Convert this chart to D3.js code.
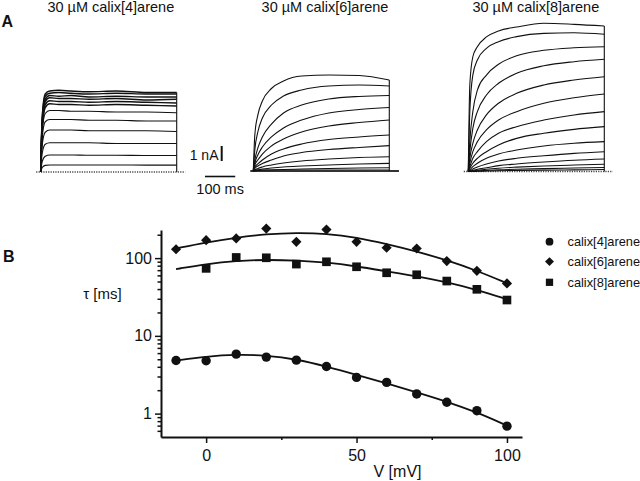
<!DOCTYPE html>
<html><head><meta charset="utf-8">
<script src="https://cdn.jsdelivr.net/npm/d3@7"></script>
<style>
html,body{margin:0;padding:0;background:#fff;}
svg{display:block;font-family:"Liberation Sans",Arial,sans-serif;}
</style></head>
<body>
<svg id="chart" width="640" height="481"></svg>
<script>
// ---------- Panel A data: current traces (nA) at sample times (ms) ----------
const tSamples = [0, 5, 15, 30, 60, 100, 160, 250, 350, 450];
const panelTitles = ["30 \u00B5M calix[4]arene", "30 \u00B5M calix[6]arene", "30 \u00B5M calix[8]arene"];
const calix4Traces = [
  [0, 3.6, 5.2, 5.4, 5.45, 5.4, 5.35, 5.4, 5.3, 5.3],
  [0, 3.5, 5.05, 5.25, 5.3, 5.25, 5.2, 5.25, 5.2, 5.2],
  [0, 3.3, 4.85, 5.1, 5.05, 5.1, 5.0, 5.05, 5.0, 5.0],
  [0, 3.2, 4.7, 4.95, 4.9, 4.9, 4.85, 4.9, 4.8, 4.85],
  [0, 3.1, 4.5, 4.75, 4.7, 4.7, 4.65, 4.7, 4.65, 4.6],
  [0, 2.9, 4.3, 4.55, 4.5, 4.5, 4.45, 4.5, 4.45, 4.4],
  [0, 2.7, 3.9, 4.1, 4.1, 4.05, 4.05, 4.0, 4.0, 3.95],
  [0, 2.3, 3.35, 3.5, 3.5, 3.5, 3.45, 3.45, 3.4, 3.4],
  [0, 1.8, 2.65, 2.8, 2.8, 2.8, 2.75, 2.75, 2.75, 2.7],
  [0, 1.25, 1.85, 1.95, 1.95, 1.95, 1.95, 1.9, 1.9, 1.9],
  [0, 0.7, 1.05, 1.13, 1.13, 1.13, 1.12, 1.12, 1.1, 1.1],
  [0, 0.3, 0.44, 0.47, 0.47, 0.47, 0.47, 0.47, 0.46, 0.46]
];
const calix6Traces = [
  [0, 2.4, 3.73, 4.67, 5.5, 6.0, 6.33, 6.4, 6.37, 6.07],
  [0, 1.4, 2.6, 3.53, 4.4, 5.0, 5.4, 5.67, 5.73, 5.67],
  [0, 0.73, 1.53, 2.27, 3.13, 3.87, 4.4, 4.8, 4.97, 5.03],
  [0, 0.53, 1.07, 1.6, 2.27, 2.87, 3.4, 3.87, 4.1, 4.23],
  [0, 0.4, 0.73, 1.13, 1.67, 2.13, 2.6, 3.0, 3.23, 3.4],
  [0, 0.27, 0.47, 0.73, 1.13, 1.47, 1.8, 2.1, 2.27, 2.4],
  [0, 0.17, 0.33, 0.5, 0.73, 1.0, 1.23, 1.43, 1.57, 1.69],
  [0, 0.07, 0.17, 0.27, 0.4, 0.53, 0.67, 0.8, 0.9, 0.95],
  [0, 0.03, 0.07, 0.13, 0.2, 0.27, 0.33, 0.4, 0.47, 0.51],
  [0, 0, 0.03, 0.05, 0.07, 0.1, 0.13, 0.17, 0.2, 0.22]
];
const calix8Traces = [
  [0, 5.77, 7.65, 8.32, 8.97, 9.37, 9.63, 9.88, 9.81, 9.7],
  [0, 3.99, 6.43, 7.43, 8.21, 8.65, 8.99, 9.21, 9.25, 9.15],
  [0, 1.99, 3.99, 5.43, 6.43, 7.15, 7.72, 8.08, 8.25, 8.32],
  [0, 1.32, 2.88, 3.99, 5.1, 5.88, 6.55, 7.05, 7.32, 7.48],
  [0, 0.88, 1.88, 2.77, 3.77, 4.55, 5.21, 5.77, 6.1, 6.32],
  [0, 0.55, 1.32, 1.99, 2.77, 3.43, 3.99, 4.55, 4.92, 5.17],
  [0, 0.32, 0.88, 1.32, 1.99, 2.55, 2.99, 3.43, 3.77, 3.99],
  [0, 0.21, 0.55, 0.88, 1.32, 1.77, 2.21, 2.55, 2.81, 2.99],
  [0, 0.1, 0.32, 0.55, 0.88, 1.17, 1.43, 1.7, 1.88, 1.99],
  [0, 0.03, 0.17, 0.3, 0.5, 0.7, 0.88, 1.05, 1.21, 1.32],
  [0, 0.01, 0.08, 0.15, 0.25, 0.39, 0.5, 0.63, 0.75, 0.83],
  [0, 0, 0.05, 0.08, 0.15, 0.22, 0.29, 0.37, 0.43, 0.48],
  [0, 0, 0.02, 0.04, 0.07, 0.11, 0.15, 0.19, 0.23, 0.27],
  [0, 0, 0, 0.02, 0.03, 0.05, 0.07, 0.09, 0.11, 0.13]
];
const scaleBarCurrent = 1;   // nA
const scaleBarTime = 100;    // ms

// ---------- Panel B data: tau (ms) vs V (mV) ----------
const voltages = [-10, 0, 10, 20, 30, 40, 50, 60, 70, 80, 90, 100];
const tauCalix4 = [4.82, 4.78, 5.82, 5.33, 4.87, 4.04, 2.92, 2.52, 1.79, 1.40, 1.09, 0.69];
const tauCalix6 = [130, 170, 179, 240, 162, 233, 162, 136, 133, 91.5, 68.7, 47.3];
const voltagesCalix8 = [0, 10, 20, 30, 40, 50, 60, 70, 80, 90, 100];
const tauCalix8 = [73.8, 102, 101, 83.8, 89.7, 77.4, 64.8, 61.1, 50.7, 39.7, 28.9];
const fitCalix4 = [4.82, 5.43, 5.78, 5.62, 5.01, 4.05, 3.16, 2.45, 1.88, 1.43, 1.04, 0.70];
const fitCalix6 = [133, 159, 184, 204, 212, 207, 185, 152, 122, 94, 69, 47.5];
const fitCalix8 = [72.3, 83.8, 92.3, 95.5, 93.3, 88.1, 78.5, 67.6, 58.6, 49.0, 39.2, 29.5];
const seriesNames = ["calix[4]arene", "calix[6]arene", "calix[8]arene"];
const yMajorTicks = [1, 10, 100];
const yMinorTicks = [0.6, 0.7, 0.8, 0.9, 2, 3, 4, 5, 6, 7, 8, 9, 20, 30, 40, 50, 60, 70, 80, 90, 200];
const xMajorTicks = [0, 50, 100];
const xMinorTicks = [25, 75];

const svg = d3.select("#chart");
const FONT = '"Liberation Sans", Arial, sans-serif';
const ink = "#111";

// ================= Panel A =================
svg.append("text").attr("x", 1.5).attr("y", 26.7).attr("font-size", 16).attr("font-weight", "bold")
  .attr("fill", ink).text("A");

const xT = d3.scaleLinear().domain([0, 450]).range([0, 136]);
const yI = d3.scaleLinear().domain([0, 1]).range([0, -15]);
const traceLine = d3.line().x((d, i) => xT(tSamples[i])).y(d => yI(d)).curve(d3.curveMonotoneX);

const panels = [
  {traces: calix4Traces, left: 40.7, base: 172, title: panelTitles[0], cx: 110.8, baseStyle: "dot", bold: 6},
  {traces: calix6Traces, left: 253.3, base: 171, title: panelTitles[1], cx: 325, baseStyle: "thick", bold: 0},
  {traces: calix8Traces, left: 468.3, base: 171.5, title: panelTitles[2], cx: 535.8, baseStyle: "dot", bold: 0}
];

panels.forEach(p => {
  svg.append("text").attr("x", p.cx).attr("y", 11.5).attr("text-anchor", "middle")
    .attr("font-size", 14.5).attr("fill", ink).text(p.title);
  const g = svg.append("g").attr("transform", `translate(${p.left},${p.base})`);
  // baseline
  if (p.baseStyle === "dot") {
    g.append("line").attr("x1", xT(-15)).attr("x2", xT(478)).attr("y1", yI(0)).attr("y2", yI(0))
      .attr("stroke", "#444").attr("stroke-width", 1.3).attr("stroke-dasharray", "1.2,1.2");
  } else {
    g.append("line").attr("x1", xT(-10)).attr("x2", xT(482)).attr("y1", yI(0)).attr("y2", yI(0))
      .attr("stroke", "#333").attr("stroke-width", 2.2);
    g.append("line").attr("x1", xT(0)).attr("x2", xT(450)).attr("y1", yI(0) - 1.5).attr("y2", yI(0) - 1.5)
      .attr("stroke", "#888").attr("stroke-width", 1);
  }
  p.traces.forEach((tr, k) => {
    g.append("path").attr("d", traceLine(tr)).attr("fill", "none")
      .attr("stroke", ink).attr("stroke-width", k < p.bold ? 1.5 : 1.1);
  });
  const maxEnd = d3.max(p.traces, tr => tr[tr.length - 1]);
  g.append("line").attr("x1", xT(450)).attr("x2", xT(450)).attr("y1", yI(0)).attr("y2", yI(maxEnd))
    .attr("stroke", ink).attr("stroke-width", 1.1);
});

// scale bars
{
  const g = svg.append("g").attr("transform", "translate(205,161)");
  g.append("line").attr("x1", 16.7).attr("x2", 16.7).attr("y1", yI(0)).attr("y2", yI(scaleBarCurrent))
    .attr("stroke", ink).attr("stroke-width", 2);
  g.append("text").attr("x", 13.5).attr("y", -1.5).attr("text-anchor", "end").attr("font-size", 14)
    .attr("fill", ink).text("1 nA");
  g.append("line").attr("x1", xT(0)).attr("x2", xT(scaleBarTime)).attr("y1", 15.5).attr("y2", 15.5)
    .attr("stroke", ink).attr("stroke-width", 1.6);
  g.append("text").attr("x", xT(scaleBarTime / 2)).attr("y", 33).attr("text-anchor", "middle")
    .attr("font-size", 14.5).attr("fill", ink).text("100 ms");
}

// ================= Panel B =================
svg.append("text").attr("x", 3).attr("y", 262).attr("font-size", 16).attr("font-weight", "bold")
  .attr("fill", ink).text("B");

const xB = d3.scaleLinear().domain([-15, 105]).range([161, 522]);
const yB = d3.scaleLog().domain([0.5, 230]).range([437, 230]);

// axes
const yAxisMajor = d3.axisLeft(yB).tickValues(yMajorTicks).tickSize(6).tickSizeOuter(0).tickPadding(3)
  .tickFormat(d3.format("d"));
const yAxisMinor = d3.axisLeft(yB).tickValues(yMinorTicks).tickSize(3.5).tickSizeOuter(0).tickFormat("");
const xAxisMajor = d3.axisBottom(xB).tickValues(xMajorTicks).tickSize(6).tickSizeOuter(0).tickPadding(7)
  .tickFormat(d3.format("d"));
const xAxisMinor = d3.axisBottom(xB).tickValues(xMinorTicks).tickSize(3).tickSizeOuter(0).tickFormat("");

function styleAxis(sel, fs) {
  sel.attr("font-family", FONT).attr("font-size", fs);
  sel.select(".domain").attr("stroke", ink).attr("stroke-width", 2);
  sel.selectAll(".tick line").attr("stroke", ink).attr("stroke-width", 1.5);
  sel.selectAll(".tick text").attr("fill", ink);
}
const gyMin = svg.append("g").attr("transform", `translate(${xB(-15)},0)`).call(yAxisMinor);
styleAxis(gyMin, 16); gyMin.select(".domain").remove();
const gy = svg.append("g").attr("transform", `translate(${xB(-15)},0)`).call(yAxisMajor);
styleAxis(gy, 16);
const gxMin = svg.append("g").attr("transform", `translate(0,${yB(0.5)})`).call(xAxisMinor);
styleAxis(gxMin, 16); gxMin.select(".domain").remove();
const gx = svg.append("g").attr("transform", `translate(0,${yB(0.5)})`).call(xAxisMajor);
styleAxis(gx, 16);

svg.append("text").attr("x", 102.5).attr("y", 299).attr("text-anchor", "middle")
  .attr("font-size", 15).attr("fill", ink).text("\u03C4 [ms]");
svg.append("text").attr("x", 397.5).attr("y", 477).attr("text-anchor", "middle")
  .attr("font-size", 16).attr("fill", ink).text("V [mV]");

// fit curves
const fitLine = d3.line().x((d, i) => xB(voltages[i])).y(d => yB(d)).curve(d3.curveBasis);
[fitCalix4, fitCalix6, fitCalix8].forEach(f => {
  svg.append("path").attr("d", fitLine(f)).attr("fill", "none")
    .attr("stroke", ink).attr("stroke-width", 1.8);
});

// markers
const symCircle = d3.symbol().type(d3.symbolCircle).size(Math.PI * 4.7 * 4.7);
const symDiamond = d3.symbol().type(d3.symbolSquare).size(52);
const symSquare = d3.symbol().type(d3.symbolSquare).size(75);

svg.append("g").selectAll("path").data(tauCalix4).join("path")
  .attr("d", symCircle).attr("fill", ink)
  .attr("transform", (d, i) => `translate(${xB(voltages[i])},${yB(d)})`);
svg.append("g").selectAll("path").data(tauCalix6).join("path")
  .attr("d", symDiamond).attr("fill", ink)
  .attr("transform", (d, i) => `translate(${xB(voltages[i])},${yB(d)}) rotate(45)`);
svg.append("g").selectAll("path").data(tauCalix8).join("path")
  .attr("d", symSquare).attr("fill", ink)
  .attr("transform", (d, i) => `translate(${xB(voltagesCalix8[i])},${yB(d)})`);

// legend
const legendY = [241.7, 261.6, 282.3];
const legendSyms = [
  {d: d3.symbol().type(d3.symbolCircle).size(Math.PI * 3.9 * 3.9)(), rot: 0},
  {d: d3.symbol().type(d3.symbolSquare).size(40)(), rot: 45},
  {d: d3.symbol().type(d3.symbolSquare).size(53)(), rot: 0}
];
seriesNames.forEach((name, i) => {
  svg.append("path").attr("d", legendSyms[i].d).attr("fill", ink)
    .attr("transform", `translate(549.5,${legendY[i]}) rotate(${legendSyms[i].rot})`);
  svg.append("text").attr("x", 567.5).attr("y", legendY[i]).attr("dy", "0.36em")
    .attr("font-size", 12.8).attr("fill", ink).text(name);
});
</script>
</body></html>
